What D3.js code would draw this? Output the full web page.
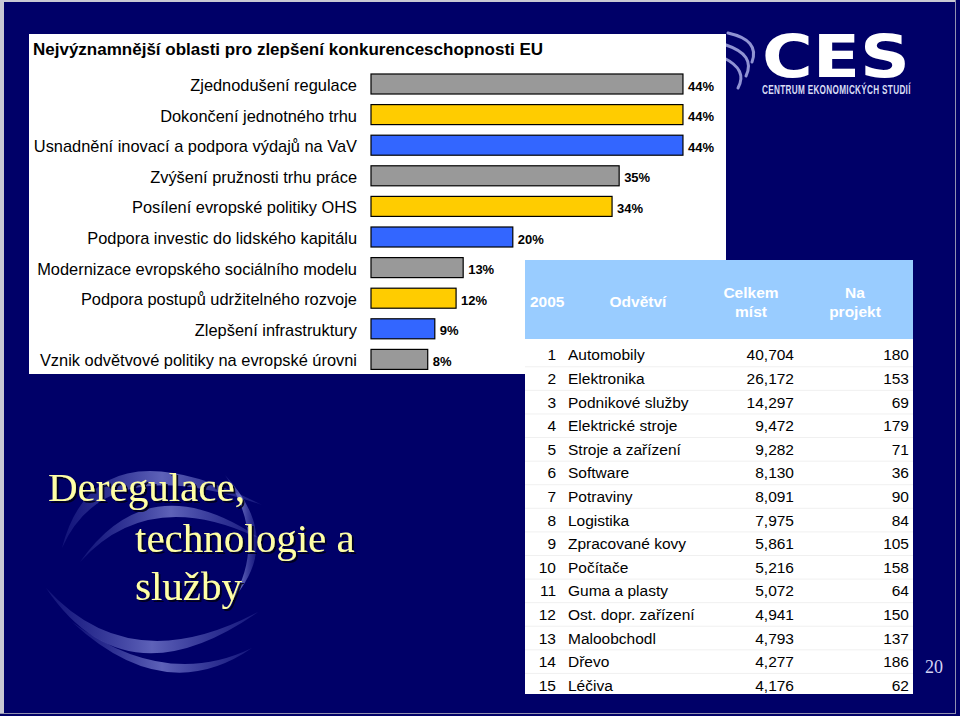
<!DOCTYPE html>
<html>
<head>
<meta charset="utf-8">
<script src="https://cdn.jsdelivr.net/npm/d3@7"></script>
<style>
  body { margin: 0; background: #000068; }
  svg { display: block; }
</style>
</head>
<body>
<svg id="slide"></svg>
<script>
// chart data
const categories = [
  "Zjednodušení regulace",
  "Dokončení jednotného trhu",
  "Usnadnění inovací a podpora výdajů na VaV",
  "Zvýšení pružnosti trhu práce",
  "Posílení evropské politiky OHS",
  "Podpora investic do lidského kapitálu",
  "Modernizace evropského sociálního modelu",
  "Podpora postupů udržitelného rozvoje",
  "Zlepšení infrastruktury",
  "Vznik odvětvové politiky na evropské úrovni"
];
const shares = [44, 44, 44, 35, 34, 20, 13, 12, 9, 8];
const barColors = ["#999999", "#ffcc00", "#3366ff"];

// table data
const ranks = [1, 2, 3, 4, 5, 6, 7, 8, 9, 10, 11, 12, 13, 14, 15];
const sectors = [
  "Automobily", "Elektronika", "Podnikové služby", "Elektrické stroje",
  "Stroje a zařízení", "Software", "Potraviny", "Logistika",
  "Zpracované kovy", "Počítače", "Guma a plasty", "Ost. dopr. zařízení",
  "Maloobchodl", "Dřevo", "Léčiva"
];
const jobsTotal = [40704, 26172, 14297, 9472, 9282, 8130, 8091, 7975, 5861, 5216, 5072, 4941, 4793, 4277, 4176];
const jobsPerProject = [180, 153, 69, 179, 71, 36, 90, 84, 105, 158, 64, 150, 137, 186, 62];
const headers = [["2005"], ["Odvětví"], ["Celkem", "míst"], ["Na", "projekt"]];

const W = 960, H = 716;
const sans = "'Liberation Sans', Arial, sans-serif";
const serif = "'Liberation Serif', 'Times New Roman', serif";

const svg = d3.select("#slide").attr("width", W).attr("height", H);

// slide background + thin frame
svg.append("rect").attr("width", W).attr("height", H).attr("fill", "#000068");
svg.append("rect").attr("x", 0).attr("y", 0).attr("width", 4).attr("height", 714).attr("fill", "#c8c8d4");
svg.append("rect").attr("x", 0).attr("y", 0).attr("width", 956).attr("height", 2).attr("fill", "#c8c8d4");
svg.append("rect").attr("x", 955).attr("y", 0).attr("width", 1).attr("height", 714).attr("fill", "#9090b0");
svg.append("rect").attr("x", 0).attr("y", 713).attr("width", 956).attr("height", 1).attr("fill", "#9090b0");

// decorative swirls behind the slide title
const defs = svg.append("defs");
const grad = defs.append("linearGradient").attr("id", "swirl").attr("x1", "0").attr("x2", "1");
grad.append("stop").attr("offset", "0").attr("stop-color", "#5a60c0").attr("stop-opacity", 0.2);
grad.append("stop").attr("offset", "0.5").attr("stop-color", "#9096e4").attr("stop-opacity", 0.65);
grad.append("stop").attr("offset", "1").attr("stop-color", "#5a60c0").attr("stop-opacity", 0.25);
defs.append("filter").attr("id", "shadow").attr("x", "-10%").attr("y", "-20%").attr("width", "130%").attr("height", "150%")
  .append("feDropShadow").attr("dx", 2).attr("dy", 2).attr("stdDeviation", 0.6)
  .attr("flood-color", "#000018").attr("flood-opacity", 0.9);

function crescent(s, c1, c2, e) {
  return `M${s}Q${c1} ${e}Q${c2} ${s}Z`;
}
const swirls = [
  [[62, 548], [95, 420], [105, 450], [262, 505]],
  [[80, 562], [150, 462], [150, 485], [262, 540]],
  [[46, 588], [125, 705], [130, 680], [258, 612]],
  [[72, 622], [165, 708], [165, 690], [252, 648]],
  [[225, 475], [285, 540], [268, 540], [232, 600]]
];
svg.append("g").selectAll("path").data(swirls).join("path")
  .attr("d", d => crescent(d[0], d[1], d[2], d[3]))
  .attr("fill", "url(#swirl)");

// CES logo
const logo = svg.append("g");
[[728, 33, 760, 40, 752, 62], [726, 45, 756, 55, 746, 76], [724, 58, 748, 70, 738, 88]].forEach(p => {
  logo.append("path")
    .attr("d", `M${p[0]},${p[1]}Q${p[2]},${p[3]} ${p[4]},${p[5]}`)
    .attr("fill", "none").attr("stroke", "#b4b8ee").attr("stroke-width", 3)
    .attr("stroke-linecap", "round").attr("opacity", 0.8);
});
logo.append("text").attr("x", 762).attr("y", 77)
  .attr("textLength", 148).attr("lengthAdjust", "spacingAndGlyphs")
  .style("font-family", "'DejaVu Sans', sans-serif").style("font-weight", "bold")
  .style("font-size", "58px").attr("fill", "#ffffff").text("CES");
logo.append("text").attr("transform", "translate(762,94) scale(1,1.55)")
  .style("font-family", sans).style("font-weight", "bold").style("letter-spacing", "0.3px")
  .style("font-size", "8.2px").attr("fill", "#d8dcf4").text("CENTRUM EKONOMICKÝCH STUDIÍ");

// white chart panel
svg.append("rect").attr("x", 29).attr("y", 34).attr("width", 697).attr("height", 340).attr("fill", "#ffffff");
svg.append("text").attr("x", 33).attr("y", 55)
  .style("font-family", sans).style("font-weight", "bold").style("font-size", "17px")
  .attr("fill", "#000").text("Nejvýznamnější oblasti pro zlepšení konkurenceschopnosti EU");

const x = d3.scaleLinear().domain([0, 50]).range([371, 725.5]);
const y = d3.scaleBand().domain(categories).range([68.7, 374.7]).paddingInner(0.346).paddingOuter(0.173);

const rows = svg.append("g").selectAll("g").data(categories).join("g");
rows.append("text")
  .attr("x", 357).attr("y", d => y(d) + y.bandwidth() / 2 + 1)
  .attr("text-anchor", "end").attr("dominant-baseline", "central")
  .style("font-family", sans).style("font-size", "16.4px").attr("fill", "#000")
  .text(d => d);
rows.append("rect")
  .attr("x", x(0)).attr("y", d => y(d))
  .attr("width", (d, i) => x(shares[i]) - x(0)).attr("height", y.bandwidth())
  .attr("fill", (d, i) => barColors[i % 3]).attr("stroke", "#000").attr("stroke-width", 1.2);
rows.append("text")
  .attr("x", (d, i) => x(shares[i]) + 5).attr("y", d => y(d) + y.bandwidth() / 2 + 2)
  .attr("dominant-baseline", "central")
  .style("font-family", sans).style("font-weight", "bold").style("font-size", "13px").attr("fill", "#000")
  .text((d, i) => shares[i] + "%");

// table
const tX0 = 525, tX1 = 913;
svg.append("rect").attr("x", tX0).attr("y", 260).attr("width", tX1 - tX0).attr("height", 79).attr("fill", "#99ccff");
svg.append("rect").attr("x", tX0).attr("y", 339).attr("width", tX1 - tX0).attr("height", 355).attr("fill", "#ffffff");

const headX = [530, 638, 751, 855];
const headAnchor = ["start", "middle", "middle", "middle"];
headers.forEach((lines, i) => {
  const t = svg.append("text").attr("x", headX[i]).attr("text-anchor", headAnchor[i])
    .style("font-family", sans).style("font-weight", "bold").style("font-size", "15.5px").attr("fill", "#ffffff");
  lines.forEach((ln, j) => {
    const cy = lines.length === 1 ? 301 : 292 + j * 19;
    t.append("tspan").attr("x", headX[i]).attr("y", cy).attr("dominant-baseline", "central").text(ln);
  });
});

const ry = d3.scaleBand().domain(ranks).range([343.2, 697.0]);
const fmt = d3.format(",");
const trow = svg.append("g").selectAll("g").data(ranks).join("g")
  .attr("transform", d => `translate(0,${ry(d) + ry.bandwidth() / 2})`);
trow.filter((d, i) => i > 0).append("line")
  .attr("x1", tX0).attr("x2", tX1).attr("y1", -ry.bandwidth() / 2).attr("y2", -ry.bandwidth() / 2)
  .attr("stroke", "#f0f0f0").attr("stroke-width", 1);
const cell = (sel, xx, anchor, fn) => sel.append("text")
  .attr("x", xx).attr("text-anchor", anchor).attr("dominant-baseline", "central")
  .style("font-family", sans).style("font-size", "15.5px").attr("fill", "#000").text(fn);
cell(trow, 556, "end", d => d);
cell(trow, 568, "start", (d, i) => sectors[i]);
cell(trow, 794, "end", (d, i) => fmt(jobsTotal[i]));
cell(trow, 909, "end", (d, i) => jobsPerProject[i]);

// slide heading
const heading = [["Deregulace,", 48, 501], ["technologie a", 135, 552], ["služby", 135, 600]];
heading.forEach(([t, hx, hy]) => {
  svg.append("text").attr("x", hx).attr("y", hy).attr("filter", "url(#shadow)")
    .style("font-family", serif).style("font-size", "41px").attr("fill", "#ffffa6").text(t);
});

// page number
svg.append("text").attr("x", 925).attr("y", 673)
  .style("font-family", serif).style("font-size", "18px").attr("fill", "#d4d4f4").text("20");
</script>
</body>
</html>
